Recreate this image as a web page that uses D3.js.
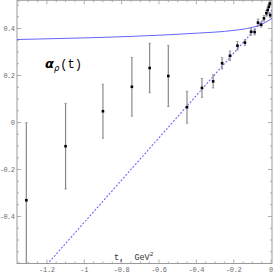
<!DOCTYPE html>
<html>
<head>
<meta charset="utf-8">
<script src="https://cdn.jsdelivr.net/npm/d3@7"></script>
<style>
  body { margin: 0; background: #fff; }
  svg { display: block; }
</style>
</head>
<body>
<div id="chart"></div>
<script>
// measured points: t, alpha, error
var tVals   = [-1.31, -1.10, -0.90, -0.745, -0.65, -0.55, -0.45, -0.37, -0.31, -0.262, -0.22, -0.18, -0.14, -0.107, -0.088, -0.07, -0.053, -0.038, -0.025, -0.018, -0.012, -0.007, -0.005];
var aVals   = [-0.331, -0.101, 0.048, 0.152, 0.232, 0.198, 0.065, 0.147, 0.175, 0.252, 0.284, 0.327, 0.340, 0.386, 0.385, 0.425, 0.416, 0.443, 0.465, 0.479, 0.493, 0.506, 0.457];
var errVals = [0.33, 0.182, 0.115, 0.125, 0.105, 0.13, 0.068, 0.04, 0.028, 0.024, 0.02, 0.018, 0.012, 0.015, 0.012, 0.015, 0.01, 0.012, 0.012, 0.01, 0.01, 0.01, 0.01];

// solid curve
var curveT = [-1.36, -1.0, -0.7, -0.4, -0.2, -0.1, -0.05, 0.005];
var curveA = [0.353, 0.360, 0.368, 0.380, 0.392, 0.405, 0.418, 0.443];

// dashed linear trajectory
var lineT = [-1.2, 0.005];
var lineA = [-0.605, 0.4795];

var xTicks = [-1.2, -1, -0.8, -0.6, -0.4, -0.2, 0];
var yTicks = [-0.4, -0.2, 0, 0.2, 0.4];

var WIDTH = 273, HEIGHT = 272;
var MARGINS = {top: 0.3, right: 1, bottom: 8.5, left: 17};

var svg = d3.select("#chart").append("svg")
    .attr("width", WIDTH)
    .attr("height", HEIGHT);

var xScale = d3.scaleLinear().domain([-1.36, 0.005]).range([MARGINS.left, WIDTH - MARGINS.right]);
var yScale = d3.scaleLinear().domain([-0.6, 0.52]).range([HEIGHT - MARGINS.bottom, MARGINS.top]);

var x0 = xScale.range()[0], x1 = xScale.range()[1];
var y0 = yScale.range()[0], y1 = yScale.range()[1];

svg.append("defs").append("clipPath").attr("id", "clip")
  .append("rect").attr("x", x0).attr("y", y1).attr("width", x1 - x0).attr("height", y0 - y1);

var frameColor = "#9a9a9a";
var labelColor = "#6a6a6a";
var monoFont = "'Liberation Mono', 'DejaVu Sans Mono', monospace";

// frame
svg.append("rect")
    .attr("x", x0).attr("y", y1)
    .attr("width", x1 - x0).attr("height", y0 - y1)
    .style("fill", "none")
    .style("stroke", frameColor)
    .style("stroke-width", 1);

// ticks on all four sides, pointing inward
var xMinor = d3.range(-1.35, 0.001, 0.05).map(function(d) { return Math.round(d * 100) / 100; });
var yMinor = d3.range(-0.6, 0.52, 0.05).map(function(d) { return Math.round(d * 100) / 100; });
var ticksG = svg.append("g").style("stroke", frameColor).style("stroke-width", 0.8);

xMinor.forEach(function(v) {
  var major = xTicks.some(function(m) { return Math.abs(m - v) < 1e-6; });
  var len = major ? 4 : 2;
  ticksG.append("line").attr("x1", xScale(v)).attr("x2", xScale(v)).attr("y1", y0).attr("y2", y0 - len);
  ticksG.append("line").attr("x1", xScale(v)).attr("x2", xScale(v)).attr("y1", y1).attr("y2", y1 + len);
});
yMinor.forEach(function(v) {
  var major = yTicks.some(function(m) { return Math.abs(m - v) < 1e-6; });
  var len = major ? 4 : 2;
  ticksG.append("line").attr("y1", yScale(v)).attr("y2", yScale(v)).attr("x1", x0).attr("x2", x0 + len);
  ticksG.append("line").attr("y1", yScale(v)).attr("y2", yScale(v)).attr("x1", x1).attr("x2", x1 - len);
});

// tick labels
svg.append("g").selectAll("text")
    .data(xTicks)
    .enter().append("text")
    .attr("x", function(d) { return xScale(d); })
    .attr("y", HEIGHT - 0.5)
    .attr("text-anchor", "middle")
    .style("font-family", monoFont)
    .style("font-size", "7px")
    .style("letter-spacing", "-0.3px")
    .style("fill", labelColor)
    .text(function(d) { return String(d); });

svg.append("g").selectAll("text")
    .data(yTicks)
    .enter().append("text")
    .attr("x", 14.5)
    .attr("y", function(d) { return yScale(d) + 2.5; })
    .attr("text-anchor", "end")
    .style("font-family", monoFont)
    .style("font-size", "7px")
    .style("letter-spacing", "-0.5px")
    .style("fill", labelColor)
    .text(function(d) { return String(d); });

var plot = svg.append("g").attr("clip-path", "url(#clip)");

// curves
var line = d3.line()
    .x(function(d) { return xScale(d[0]); })
    .y(function(d) { return yScale(d[1]); });

plot.append("path")
    .datum(curveT.map(function(t, i) { return [t, curveA[i]]; }))
    .attr("d", line.curve(d3.curveMonotoneX))
    .style("fill", "none")
    .style("stroke", "#6464ff")
    .style("stroke-width", 1);

plot.append("path")
    .datum(lineT.map(function(t, i) { return [t, lineA[i]]; }))
    .attr("d", d3.line().x(function(d) { return xScale(d[0]); }).y(function(d) { return yScale(d[1]); }))
    .style("fill", "none")
    .style("stroke", "#6a6aff")
    .style("stroke-width", 1.1)
    .style("stroke-dasharray", "2,1.6");

// error bars
var pts = tVals.map(function(t, i) { return {t: t, a: aVals[i], e: errVals[i]}; });

var bars = plot.append("g").selectAll("g").data(pts).enter().append("g");
bars.append("line")
    .attr("x1", function(d) { return xScale(d.t); })
    .attr("x2", function(d) { return xScale(d.t); })
    .attr("y1", function(d) { return yScale(d.a - d.e); })
    .attr("y2", function(d) { return yScale(d.a + d.e); })
    .style("stroke", "#8a8a8a")
    .style("stroke-width", 1.2);
bars.append("line")
    .attr("x1", function(d) { return xScale(d.t) - 1.2; })
    .attr("x2", function(d) { return xScale(d.t) + 1.2; })
    .attr("y1", function(d) { return yScale(d.a + d.e); })
    .attr("y2", function(d) { return yScale(d.a + d.e); })
    .style("stroke", "#8a8a8a")
    .style("stroke-width", 0.8);
bars.append("line")
    .attr("x1", function(d) { return xScale(d.t) - 1.2; })
    .attr("x2", function(d) { return xScale(d.t) + 1.2; })
    .attr("y1", function(d) { return yScale(d.a - d.e); })
    .attr("y2", function(d) { return yScale(d.a - d.e); })
    .style("stroke", "#8a8a8a")
    .style("stroke-width", 0.8);

plot.append("g").selectAll("rect")
    .data(pts)
    .enter().append("rect")
    .attr("x", function(d) { return xScale(d.t) - 1.3; })
    .attr("y", function(d) { return yScale(d.a) - 1.3; })
    .attr("width", 2.6)
    .attr("height", 2.6)
    .style("fill", "#000");

// title alpha_rho(t)
var title = svg.append("text")
    .attr("x", 45)
    .attr("y", 68)
    .style("fill", "#000");
title.append("tspan")
    .style("font-family", "'DejaVu Sans', sans-serif")
    .style("font-weight", "bold")
    .style("font-style", "italic")
    .style("font-size", "13px")
    .text("\u03b1");
title.append("tspan")
    .attr("dy", 2.5)
    .style("font-family", "'DejaVu Sans', sans-serif")
    .style("font-style", "italic")
    .style("font-size", "8.5px")
    .text("\u03c1");
title.append("tspan")
    .attr("dy", -2.5)
    .attr("dx", 1)
    .style("font-family", monoFont)
    .style("font-size", "12px")
    .text("(t)");

// axis label
var xl = svg.append("text")
    .attr("x", 114)
    .attr("y", 260)
    .style("font-family", monoFont)
    .style("font-size", "8.5px")
    .style("fill", "#333")
    .attr("xml:space", "preserve")
    .style("white-space", "pre");
xl.append("tspan").text("t,  GeV");
xl.append("tspan").attr("dy", -4).style("font-size", "6px").text("2");
</script>
</body>
</html>
